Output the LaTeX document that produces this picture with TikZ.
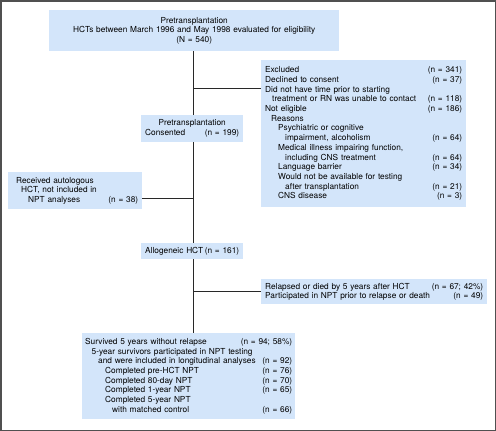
\documentclass[tikz,border=0pt]{standalone}
\usepackage{fontspec}
\setmainfont{TeX Gyre Heros}
\usepackage{tikz}
\usetikzlibrary{positioning,calc}
\definecolor{boxblue}{RGB}{211,229,250}
\definecolor{linegray}{RGB}{40,40,40}
\definecolor{framegray}{RGB}{80,80,80}
\newcommand{\ind}[1]{\hspace*{#1pt}}
\newcommand{\ncount}[1]{\hfill(n = #1)}

\begin{document}
\begin{tikzpicture}[
    x=1pt, y=-1pt,
    box/.style={rectangle, fill=boxblue, inner xsep=4pt, inner ysep=2pt, align=left,
        anchor=north west, font=\fontsize{8.3}{9.7}\selectfont},
    link/.style={draw=linegray, line width=1pt}
]
    \useasboundingbox (0,0) rectangle (496,431);
    \draw[framegray, line width=1.5pt] (0.75,0.75) rectangle (495.25,430.25);

    % boxes, top to bottom
    \node[box, align=center, text width=282, minimum height=41] (top) at (49,10) {
        Pretransplantation\\
        HCTs between March 1996 and May 1998 evaluated for eligibility\\
        (N = 540)
    };

    \node[box, text width=197, minimum height=147] (excl) at (261,60) {
        Excluded\ncount{341}\\
        Declined to consent\ncount{37}\\
        Did not have time prior to starting\\
        \ind{7}treatment or RN was unable to contact\ncount{118}\\
        Not eligible\ncount{186}\\
        \ind{6}Reasons\\
        \ind{13}Psychiatric or cognitive\\
        \ind{20}impairment, alcoholism\ncount{64}\\
        \ind{13}Medical illness impairing function,\\
        \ind{20}including CNS treatment\ncount{64}\\
        \ind{13}Language barrier\ncount{34}\\
        \ind{13}Would not be available for testing\\
        \ind{20}after transplantation\ncount{21}\\
        \ind{13}CNS disease\ncount{3}
    };

    \node[box, text width=94, minimum height=27] (consent) at (141,115) {
        \makebox[\linewidth]{Pretransplantation}\\
        Consented\ncount{199}
    };

    \node[box, text width=126, minimum height=37] (auto) at (8,172) {
        \ind{4}Received autologous\\
        \ind{9}HCT, not included in\\
        \ind{16}NPT analyses\ncount{38}
    };

    \node[box, text width=94, minimum height=16] (allo) at (141,243) {
        Allogeneic HCT\ncount{161}
    };

    \node[box, text width=218, minimum height=25] (relapse) at (261,279) {
        Relapsed or died by 5 years after HCT\ncount{67; 42\%}\\
        Participated in NPT prior to relapse or death\ncount{49}
    };

    \node[box, inner xsep=3pt, text width=207, minimum height=86] (surv) at (82,333) {
        Survived 5 years without relapse\ncount{94; 58\%}\\
        \ind{6.5}5-year survivors participated in NPT testing\\
        \ind{13}and were included in longitudinal analyses\ncount{92}\\
        \ind{20}Completed pre-HCT NPT\ncount{76}\\
        \ind{20}Completed 80-day NPT\ncount{70}\\
        \ind{20}Completed 1-year NPT\ncount{65}\\
        \ind{20}Completed 5-year NPT\\
        \ind{27}with matched control\ncount{66}
    };

    % trunk and branches
    \coordinate (trunk) at (193,0);
    \coordinate (jexcl) at (193,88);
    \coordinate (jauto) at (193,198);
    \coordinate (jrel) at (193,291);

    \draw[link] (top.south -| trunk) -- (consent.north -| trunk);
    \draw[link] (consent.south -| trunk) -- (allo.north -| trunk);
    \draw[link] (allo.south -| trunk) -- (surv.north -| trunk);
    \draw[link] (jexcl) -- (jexcl -| excl.west);
    \draw[link] (jauto) -- (jauto -| auto.east);
    \draw[link] (jrel) -- (jrel -| relapse.west);
\end{tikzpicture}
\end{document}
